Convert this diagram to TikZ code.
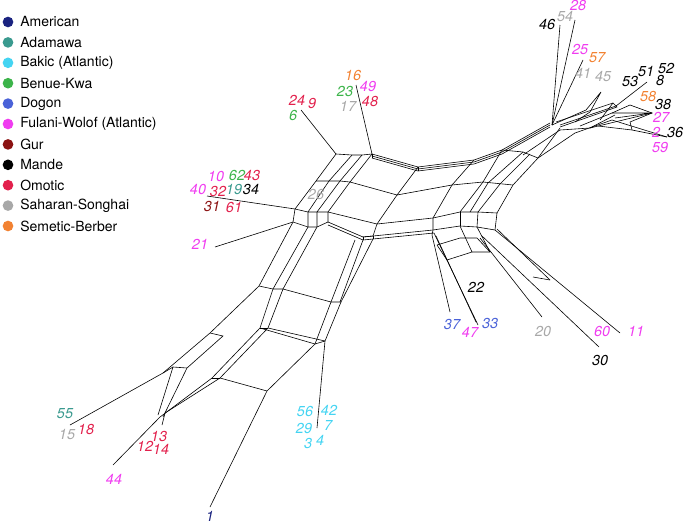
\documentclass[tikz,border=0pt]{standalone}
\usepackage{fontspec}
\setmainfont{TeX Gyre Heros}
\definecolor{cAm}{HTML}{1A2380}
\definecolor{cAd}{HTML}{3A9A8F}
\definecolor{cBa}{HTML}{44D4F2}
\definecolor{cBe}{HTML}{3CB44A}
\definecolor{cDo}{HTML}{4A62D8}
\definecolor{cFu}{HTML}{F03CF0}
\definecolor{cGu}{HTML}{8B1212}
\definecolor{cMa}{HTML}{000000}
\definecolor{cOm}{HTML}{E2204C}
\definecolor{cSa}{HTML}{A8A8A8}
\definecolor{cSe}{HTML}{F28232}
\begin{document}
\begin{tikzpicture}[x=0.75pt,y=-0.75pt,
  net/.style={line width=0.45pt,black},
  lab/.style={font=\fontsize{10.8}{11}\selectfont\itshape,inner sep=0pt},
  leg/.style={font=\fontsize{10.5}{11}\selectfont,anchor=west,inner sep=0pt},
  dot/.style={circle,inner sep=0pt,minimum size=8pt}]
\useasboundingbox (0,0) rectangle (685,525);
% legend
\foreach \c/\t [count=\i from 0] in {cAm/American,cAd/Adamawa,cBa/Bakic (Atlantic),cBe/Benue-Kwa,cDo/Dogon,cFu/Fulani-Wolof (Atlantic),cGu/Gur,cMa/Mande,cOm/Omotic,cSa/Saharan-Songhai,cSe/Semetic-Berber}{
  \node[dot,fill=\c] (d\i) at (8,{22+20.4*\i}) {};
  \node[leg] (t\i) at (20,{22+20.4*\i}) {\t};
}
% ---- network ----
\begin{scope}[net]
\draw (301,110) -- (336,154);
\draw (356,85) -- (372,154);
\draw (336,154) -- (352,155) -- (362,155) -- (372,154);
\foreach \o in {0,2,4}{
  \draw (372,154+\o) -- (418,167+\o) -- (474,160+\o) -- (502,150+\o) -- (550,123+\o);}
\draw (372,154) -- (372,158);
\draw (418,167) -- (418,171);
% left column strands
\draw (336,154) -- (316,181) -- (295,209) -- (293,222) -- (259,286);
\draw (352,155) -- (329,181) -- (308,212) -- (308,227) -- (273,289);
\draw (362,155) -- (340,181) -- (317,212) -- (317,227) -- (283,289);
\draw (372,154) -- (350,182) -- (328,212) -- (328,222);
\draw (295,209) -- (308,212) -- (317,212) -- (328,212);
\draw (293,222) -- (308,227) -- (317,227) -- (328,222);
\draw (316,181) -- (329,181) -- (340,181) -- (350,182);
% middle horizontal rows
\draw (350,182) -- (397,195) -- (452,185) -- (483,182) -- (513,185);
\draw (418,167) -- (397,195);
\draw (474,160) -- (452,185);
\draw (328,212) -- (377,224) -- (433,218) -- (460,212) -- (478,212) -- (497,213);
\draw (328,222) -- (363,237) -- (433,230) -- (460,226) -- (477,227) -- (495,230);
\draw (328,225) -- (363,240) -- (373,239) -- (434,233);
\draw (363,237) -- (363,240);
\draw (373,236) -- (373,239);
\draw (397,195) -- (377,224);
\draw (377,224) -- (373,236) -- (363,237);
\draw (363,240) -- (340,302) ;
\draw (373,239) -- (341,302);
\draw (355,240) -- (331,302);
% right arm strands
\draw (433,218) -- (433,230) -- (432,235);
\draw (433,218) -- (452,185);
\draw (460,212) -- (483,182) -- (502,150);
\draw (470,212) -- (488,183) -- (523,152);
\draw (478,212) -- (500,184) -- (530,154);
\draw (497,213) -- (513,185) -- (538,158) -- (560,128);
\draw (460,212) -- (460,226);
\draw (478,212) -- (477,227);
\draw (497,213) -- (495,230);
\draw (502,150) -- (523,152) -- (538,158);
\draw (523,155) -- (560,130) -- (590,128) -- (615,115);
\draw (538,158) -- (575,133) -- (612,120) -- (667,137);
% top-right fan
\draw (552,125) -- (560,25);
\draw (552,125) -- (575,20);
\draw (552,125) -- (583,60);
\draw (552,125) -- (586,110) -- (601,92) -- (590,112) -- (575,122);
\draw (556,122) -- (613,103) -- (617,107) -- (560,127);
\draw (560,125) -- (616,106) -- (647,82);
\draw (580,126) -- (612,113) -- (652,113) -- (615,118);
\draw (612,113) -- (630,105) -- (652,113) -- (630,122);
\draw (600,120) -- (613,103);
\draw (590,128) -- (652,113);
\draw (598,126) -- (632,130) -- (667,137);
\draw (630,122) -- (632,130);
% lower-right leaves
\draw (432,235) -- (450,312);
\draw (434,233) -- (478,325);
\draw (436,236) -- (476,322);
\draw (437,245) -- (447,260) -- (472,252) -- (460,226);
\draw (472,252) -- (490,252) -- (477,227);
\draw (437,245) -- (460,238) -- (477,238) -- (490,252);
\draw (480,238) -- (542,317);
\draw (482,236) -- (599,347);
\draw (495,230) -- (620,333);
\draw (497,229) -- (550,280);
\draw (533,277) -- (550,280);
% lower-left arm
\draw (259,286) -- (273,289) -- (283,289) -- (331,302) -- (341,302);
\draw (259,286) -- (210,333) -- (163,373) -- (70,425);
\draw (273,289) -- (260,328) -- (212,378) -- (160,417) -- (113,465);
\draw (283,289) -- (268,328) -- (220,378) -- (165,413);
\draw (260,328) -- (268,328);
\draw (212,378) -- (220,378);
\draw (260,328) -- (315,344);
\draw (268,328) -- (325,341);
\draw (220,378) -- (267,391);
\draw (331,302) -- (315,344) -- (267,391) -- (210,507);
\draw (341,302) -- (325,341) -- (317,428);
\draw (315,344) -- (325,341);
\draw (210,333) -- (223,336) -- (187,368) -- (163,417);
\draw (163,373) -- (173,367) -- (187,368);
\draw (173,367) -- (158,415);
\draw (165,413) -- (162,425);
% left leaves
\draw (207,196) -- (295,209);
\draw (215,247) -- (293,222);
\end{scope}
% labels
\foreach \x/\y/\c/\t in {
297/100/cOm/24, 312/104/cOm/9, 293/115/cBe/6,
353/76/cSe/16, 345/91/cBe/23, 368/87/cFu/49, 348/106/cSa/17, 370/101/cOm/48,
216/176/cFu/10, 237/175/cBe/62, 252/175/cOm/43, 198/189/cFu/40, 218/191/cOm/32, 234/189/cAd/19, 251/189/cMa/34,
212/206/cGu/31, 234/207/cOm/61, 200/244/cFu/21, 316/194/cSa/26,
547/25/cMa/46, 565/17/cSa/54, 578/6/cFu/28, 580/50/cFu/25, 597/58/cSe/57, 583/73/cSa/41, 603/77/cSa/45,
630/82/cMa/53, 646/72/cMa/51, 666/69/cMa/52, 660/81/cMa/8, 648/97/cSe/58, 663/105/cMa/38, 661/117/cFu/27,
656/132/cFu/2, 675/133/cMa/36, 660/147/cFu/59,
476/287/cMa/22, 452/324/cDo/37, 470/332/cFu/47, 490/323/cDo/33, 543/331/cSa/20, 602/331/cFu/60, 636/331/cFu/11, 600/360/cMa/30,
65/414/cAd/55, 67/434/cSa/15, 86/429/cOm/18, 159/436/cOm/13, 145/446/cOm/12, 161/449/cOm/14, 114/479/cFu/44,
210/516/cAm/1, 305/411/cBa/56, 329/410/cBa/42, 304/428/cBa/29, 328/425/cBa/7, 308/443/cBa/3, 320/440/cBa/4}{
  \node[lab,text=\c] (n\t) at (\x,\y) {\t};
}
\end{tikzpicture}
\end{document}
